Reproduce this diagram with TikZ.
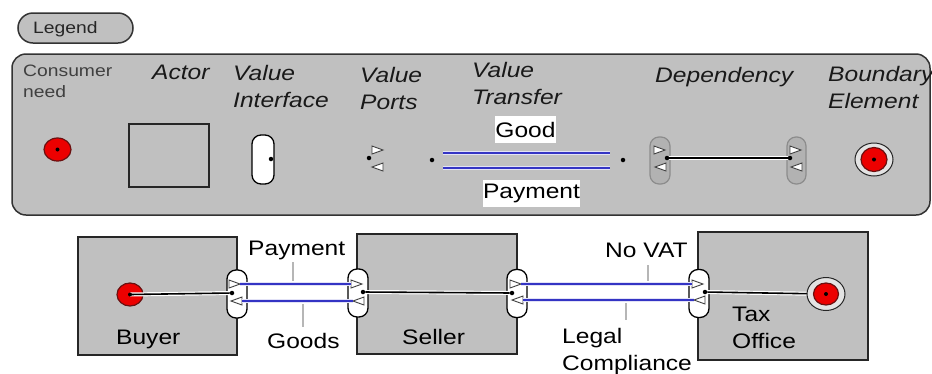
\documentclass[tikz,border=0pt]{standalone}
\usepackage{fontspec}
\setmainfont{Liberation Sans}[FakeStretch=1.17]
\usetikzlibrary{shapes.geometric}

\definecolor{panelgray}{HTML}{C0C0C0}
\definecolor{depgray}{HTML}{B2B2B2}
\definecolor{vtblue}{HTML}{3434C4}
\definecolor{vthalo}{HTML}{E2E2F6}
\definecolor{needred}{HTML}{EC0000}
\definecolor{needrim}{HTML}{6A1010}
\definecolor{leader}{HTML}{B6B6B6}

\tikzset{
  panel/.style={draw=black!80, line width=1.5pt, fill=panelgray, rounded corners=14pt, inner sep=0pt},
  tagbox/.style={draw=black!80, line width=1.5pt, fill=panelgray, rounded corners=15pt,
    minimum width=115pt, minimum height=30pt, inner sep=0pt},
  actorbox/.style={draw=black!85, line width=1.5pt, fill=panelgray, inner sep=0pt},
  iface/.style={draw=black, line width=1.3pt, fill=white, rounded corners=9pt,
    minimum width=20pt, minimum height=48pt, inner sep=0pt},
  depface/.style={draw=black!45, line width=1.2pt, fill=depgray, rounded corners=9pt,
    minimum width=20pt, minimum height=47pt, inner sep=0pt},
  portdot/.style={circle, fill=black, minimum size=4.5pt, inner sep=0pt},
  need/.style={ellipse, fill=needred, draw=needrim, line width=1.2pt,
    minimum width=26pt, minimum height=23pt, inner sep=0pt},
  boundary/.style={ellipse, fill=panelgray!45!white, draw=black!85, line width=1pt,
    minimum width=38pt, minimum height=33pt, inner sep=0pt},
  porttri/.style={draw=black!75, fill=white, line width=0.9pt, line join=miter},
  transfer/.style={draw=vthalo, line width=1.2pt, double=vtblue, double distance=2.4pt},
  depline/.style={draw=white, line width=1.2pt, double=black, double distance=1.6pt},
  leaderline/.style={draw=leader, line width=1.4pt},
  head/.style={font=\fontsize{21}{27}\selectfont\itshape, text=black!90, align=left,
    inner sep=0pt, anchor=north west},
  note/.style={font=\fontsize{16.5}{21}\selectfont, text=black!75, align=left,
    inner sep=0pt, anchor=north west},
  lbl/.style={font=\fontsize{21}{25}\selectfont, inner sep=0pt, anchor=base west},
  lbl2/.style={font=\fontsize{21}{27}\selectfont, align=left, inner sep=0pt, anchor=north west},
  tagtext/.style={font=\fontsize{16.5}{20}\selectfont, text=black!85, inner sep=0pt, anchor=base west},
  whitelbl/.style={fill=white, font=\fontsize{21}{25}\selectfont, inner sep=0pt},
  pr/.pic={\draw[porttri] (0,-4) -- (11,0) -- (0,4) -- cycle;},
  pl/.pic={\draw[porttri] (0,0) -- (11,-4) -- (11,4) -- cycle;},
}

\begin{document}
\begin{tikzpicture}[x=1pt,y=-1pt]
\useasboundingbox (0,0) rectangle (932,373);
\fill[white] (0,0) rectangle (932,373);

% ---------- legend tag and panel ----------
\node[tagbox] (tag) at (75.5,28) {};
\node[tagtext] (tagtxt) at (33,33) {Legend};
\node[panel, minimum width=918pt, minimum height=161pt] (legend) at (471,134.5) {};

% column headings
\node[note] (hneed) at (23,65) {Consumer\\need};
\node[head] (hactor) at (152,65) {Actor};
\node[head] (hiface) at (233,65) {Value\\Interface};
\node[head] (hports) at (360,67) {Value\\Ports};
\node[head] (htransfer) at (472,62) {Value\\Transfer};
\node[head] (hdep) at (655,67) {Dependency};
\node[head] (hbound) at (828,66) {Boundary\\Element};

% consumer need sample
\node[need, minimum width=27pt] (needS) at (57.5,149.5) {};
\node[portdot, minimum size=4pt] (needSdot) at (needS.center) {};

% actor sample
\node[actorbox, minimum width=80pt, minimum height=63pt] (actorS) at (169,155.5) {};

% value interface sample
\node[iface, minimum width=22pt, minimum height=49pt] (ifaceS) at (263,159.5) {};
\node[portdot] (ifaceSdot) at (271,159) {};

% value ports sample
\pic at (372,150) {pr};
\pic at (372,167) {pl};
\node[portdot] (portS) at (369,158) {};

% value transfer sample
\node[portdot] (vtA) at (432,160) {};
\node[portdot] (vtB) at (623,160) {};
\coordinate (vt1a) at (443,153);
\coordinate (vt1b) at (610,153);
\coordinate (vt2a) at (443,168);
\coordinate (vt2b) at (610,168);
\draw[transfer] (vt1a) -- (vt1b);
\draw[transfer] (vt2a) -- (vt2b);
\node[whitelbl, minimum width=61pt, minimum height=27pt] (goodS) at (525.5,129.5) {Good};
\node[whitelbl, minimum width=97pt, minimum height=27pt] (payS) at (531.5,193.5) {Payment};

% dependency sample
\node[depface] (depA) at (660,160.5) {};
\node[depface, minimum width=19pt] (depB) at (796.5,160.5) {};
\pic at (654,150) {pr};
\pic at (655,167) {pl};
\pic at (790,150) {pr};
\pic at (791,167) {pl};
\node[portdot] (depAdot) at (667,158) {};
\node[portdot] (depBdot) at (790,158) {};
\draw[depline] (depAdot) -- (depBdot);

% boundary element sample
\node[boundary] (bndS) at (874,159.5) {};
\node[need, minimum width=26pt, minimum height=24pt] (bndSred) at (bndS.center) {};
\node[portdot, minimum size=4pt] (bndSdot) at (bndS.center) {};

% ---------- value model ----------
\node[actorbox, minimum width=159pt, minimum height=118pt] (buyer) at (157.5,296) {};
\node[actorbox, minimum width=160pt, minimum height=120pt] (seller) at (437,294) {};
\node[actorbox, minimum width=170pt, minimum height=128pt] (tax) at (783,296) {};
\node[lbl] (buyerlbl) at (116,344) {Buyer};
\node[lbl] (sellerlbl) at (402,344) {Seller};
\node[lbl2] (taxlbl) at (732,307) {Tax\\Office};

% start stimulus inside the buyer
\node[need] (buyerneed) at (130,294.5) {};

% value interfaces
\node[iface] (bR) at (237,294) {};
\node[iface] (sL) at (358,293) {};
\node[iface] (sR) at (517,293.5) {};
\node[iface] (tL) at (699,293.5) {};

\pic at (229,284) {pr};
\pic at (231,301) {pl};
\pic at (351,284) {pr};
\pic at (353,301) {pl};
\pic at (510,284) {pr};
\pic at (512,300) {pl};
\pic at (692,284) {pr};
\pic at (694,300) {pl};

\node[portdot] (bRdot) at (232,293) {};
\node[portdot] (sLdot) at (363,292) {};
\node[portdot] (sRdot) at (512,293) {};
\node[portdot] (tLdot) at (705,292) {};

% dependency paths
\coordinate (taxbndc) at (826,294);
\draw[depline] (buyerneed.center) -- (bRdot);
\draw[depline] (sLdot) -- (sRdot);
\draw[depline] (tLdot) -- (taxbndc);
\node[portdot, minimum size=4pt] (buyerneeddot) at (buyerneed.center) {};

% boundary element inside the tax office
\node[boundary] (taxbnd) at (taxbndc) {};
\node[need, minimum width=25pt, minimum height=22pt] (taxbndred) at (taxbndc) {};
\node[portdot, minimum size=4pt] (taxbnddot) at (taxbndc) {};

% value transfers
\coordinate (p1a) at (240,284);
\coordinate (p1b) at (351,284);
\coordinate (g1a) at (242,301);
\coordinate (g1b) at (353,301);
\coordinate (v1a) at (521,284);
\coordinate (v1b) at (692,284);
\coordinate (l1a) at (523,300);
\coordinate (l1b) at (694,300);
\draw[transfer] (p1a) -- (p1b);
\draw[transfer] (g1a) -- (g1b);
\draw[transfer] (v1a) -- (v1b);
\draw[transfer] (l1a) -- (l1b);

% transfer labels with leaders
\node[lbl] (paylbl) at (248,255) {Payment};
\node[lbl] (goodslbl) at (267,348) {Goods};
\node[lbl] (vatlbl) at (605,257) {No VAT};
\node[lbl2] (legallbl) at (562,328) {Legal\\Compliance};
\coordinate (payleadtop) at (293,262);
\coordinate (payleadbot) at (293,281);
\coordinate (goodsleadtop) at (303,304);
\coordinate (goodsleadbot) at (303,327);
\coordinate (vatleadtop) at (648,265);
\coordinate (vatleadbot) at (648,281);
\coordinate (legalleadtop) at (626,303);
\coordinate (legalleadbot) at (626,320);
\draw[leaderline] (payleadtop) -- (payleadbot);
\draw[leaderline] (goodsleadtop) -- (goodsleadbot);
\draw[leaderline] (vatleadtop) -- (vatleadbot);
\draw[leaderline] (legalleadtop) -- (legalleadbot);
\end{tikzpicture}
\end{document}
